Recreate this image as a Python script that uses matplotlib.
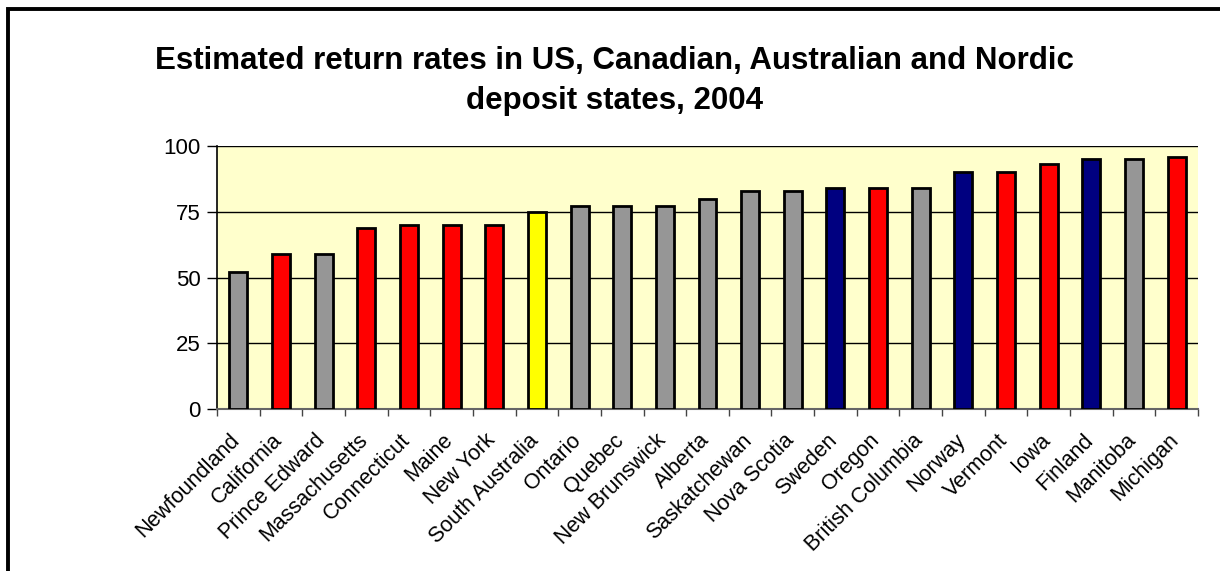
import matplotlib
matplotlib.use("Agg")
import matplotlib.pyplot as plt
import matplotlib.transforms as mtransforms
from matplotlib.lines import Line2D
import numpy as np

plt.rcParams['font.family'] = ['Liberation Sans', 'DejaVu Sans']

# return rates (%)
places = ["Newfoundland", "California", "Prince Edward", "Massachusetts", "Connecticut",
          "Maine", "New York", "South Australia", "Ontario", "Quebec", "New Brunswick",
          "Alberta", "Saskatchewan", "Nova Scotia", "Sweden", "Oregon", "British Columbia",
          "Norway", "Vermont", "Iowa", "Finland", "Manitoba", "Michigan"]
rates = [52, 59, 59, 69, 70, 70, 70, 75, 77, 77, 77, 80, 83, 83, 84, 84, 84, 90, 90, 93, 95, 95, 96]
# region group of each place
groups = ["CA", "US", "CA", "US", "US", "US", "US", "AU", "CA", "CA", "CA",
          "CA", "CA", "CA", "NO", "US", "CA", "NO", "US", "US", "NO", "CA", "US"]

group_colors = {"US": "#FF0000", "CA": "#969696", "AU": "#FFFF00", "NO": "#000080"}
colors = [group_colors[g] for g in groups]

fig = plt.figure(figsize=(12.2, 5.71), dpi=100)
ax = fig.add_axes([217 / 1220, 1 - 409 / 571, (1198 - 217) / 1220, (409 - 146) / 571])
ax.set_facecolor("#FFFFCC")

x = np.arange(len(places))
ax.bar(x, rates, width=0.42, color=colors, edgecolor="black", linewidth=2, zorder=3)

ax.set_xlim(-0.5, len(places) - 0.5)
ax.set_ylim(0, 100)
ax.set_yticks([0, 25, 50, 75, 100])
ax.yaxis.grid(True, color="black", linewidth=1, zorder=1)
ax.tick_params(axis="y", labelsize=16, length=7, width=1, pad=5)

ax.set_xticks(x)
ax.set_xticklabels(places, rotation=45, ha="right", rotation_mode="anchor", fontsize=15.5)
ax.tick_params(axis="x", which="major", length=0, pad=15)
ax.set_xticks(np.arange(len(places) + 1) - 0.5, minor=True)
ax.tick_params(axis="x", which="minor", length=5, width=1, color="#444444")

# nudge the rotated labels a little to the left, as in the original
shift = mtransforms.ScaledTranslation(-9 / 100, 0, fig.dpi_scale_trans)
for lbl in ax.get_xticklabels():
    lbl.set_transform(lbl.get_transform() + shift)

for s in ["top", "right"]:
    ax.spines[s].set_visible(False)
ax.spines["left"].set_linewidth(1.2)
ax.spines["bottom"].set_color("#666666")
ax.spines["bottom"].set_linewidth(1.5)

fig.text(0.504, 1 - 81 / 571, "Estimated return rates in US, Canadian, Australian and Nordic\ndeposit states, 2004",
         ha="center", va="center", fontsize=22.5, fontweight="bold", linespacing=1.4)

# outer frame (left and top edges)
fig.add_artist(Line2D([7.5 / 1220, 7.5 / 1220, 1.0], [0.0, 1 - 8.5 / 571, 1 - 8.5 / 571],
                      transform=fig.transFigure, color="black", linewidth=2.8,
                      solid_joinstyle="miter"))

fig.savefig("out.png", dpi=100)
